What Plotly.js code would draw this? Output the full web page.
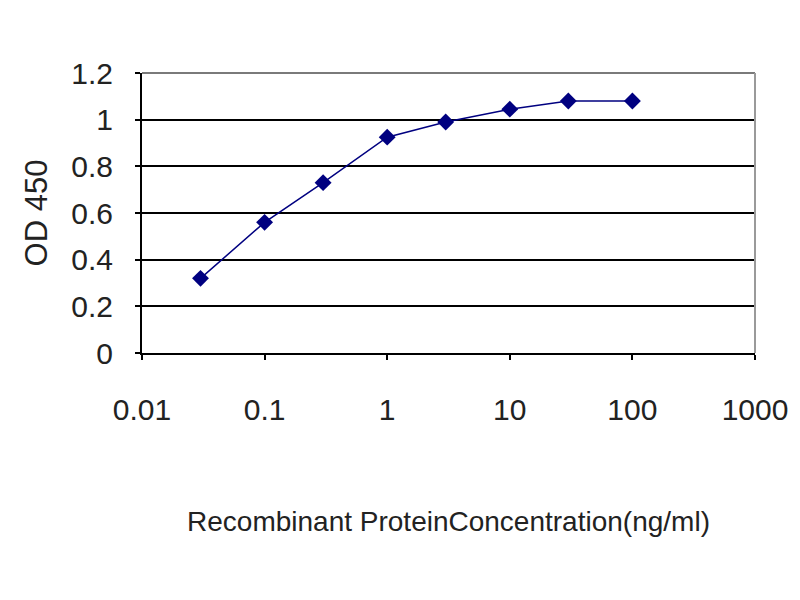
<!DOCTYPE html>
<html>
<head>
<meta charset="utf-8">
<script src="https://cdn.plot.ly/plotly-3.0.1.min.js"></script>
<style>html,body{margin:0;padding:0;background:#fff;}#chart{width:800px;height:600px;}</style>
</head>
<body>
<div id="chart"></div>
<script>
const concentration = [0.03, 0.1, 0.3, 1, 3, 10, 30, 100];
const od450 = [0.32, 0.56, 0.73, 0.925, 0.99, 1.045, 1.08, 1.08];
const xTickVals = [0.01, 0.1, 1, 10, 100, 1000];
const xTickText = ["0.01", "0.1", "1", "10", "100", "1000"];
const yTickVals = [0, 0.2, 0.4, 0.6, 0.8, 1, 1.2];
const yTickText = ["0", "0.2", "0.4", "0.6", "0.8", "1", "1.2"];

const fontFam = "Liberation Sans, Arial, sans-serif";

const trace = {
  x: concentration,
  y: od450,
  type: "scatter",
  mode: "lines+markers",
  line: {color: "#000080", width: 1.5},
  marker: {symbol: "diamond", size: 13, color: "#000080"},
  showlegend: false
};

const layout = {
  width: 800, height: 600,
  paper_bgcolor: "#ffffff", plot_bgcolor: "#ffffff",
  margin: {l: 142, r: 45, t: 73, b: 247},
  font: {family: fontFam, color: "#222"},
  xaxis: {
    type: "log", range: [-2, 3],
    tickvals: xTickVals, ticktext: xTickText,
    showgrid: false, zeroline: false,
    showline: true, linecolor: "#000", linewidth: 2,
    ticks: "outside", ticklen: 5, tickcolor: "#000", tickwidth: 2,
    ticklabelstandoff: 24,
    tickfont: {size: 30, family: fontFam, color: "#222"},
    title: {text: "Recombinant ProteinConcentration(ng/ml)", font: {size: 28, family: fontFam, color: "#222"}, standoff: 86}
  },
  yaxis: {
    range: [0, 1.2],
    tickvals: yTickVals, ticktext: yTickText,
    showgrid: true, gridcolor: "#000", gridwidth: 2,
    zeroline: false,
    showline: true, linecolor: "#000", linewidth: 2,
    ticks: "outside", ticklen: 5, tickcolor: "#000", tickwidth: 2,
    ticklabelstandoff: 16,
    tickfont: {size: 30, family: fontFam, color: "#222"},
    title: {text: "OD 450", font: {size: 31, family: fontFam, color: "#222"}, standoff: 14}
  },
  shapes: [
    {type: "line", xref: "paper", yref: "paper", x0: 0, x1: 1, y0: 1, y1: 1, line: {color: "#7a7a7a", width: 2}},
    {type: "line", xref: "paper", yref: "paper", x0: 1, x1: 1, y0: 0, y1: 1, line: {color: "#9a9a9a", width: 2}}
  ]
};

Plotly.newPlot("chart", [trace], layout, {displayModeBar: false, staticPlot: true});
</script>
</body>
</html>
